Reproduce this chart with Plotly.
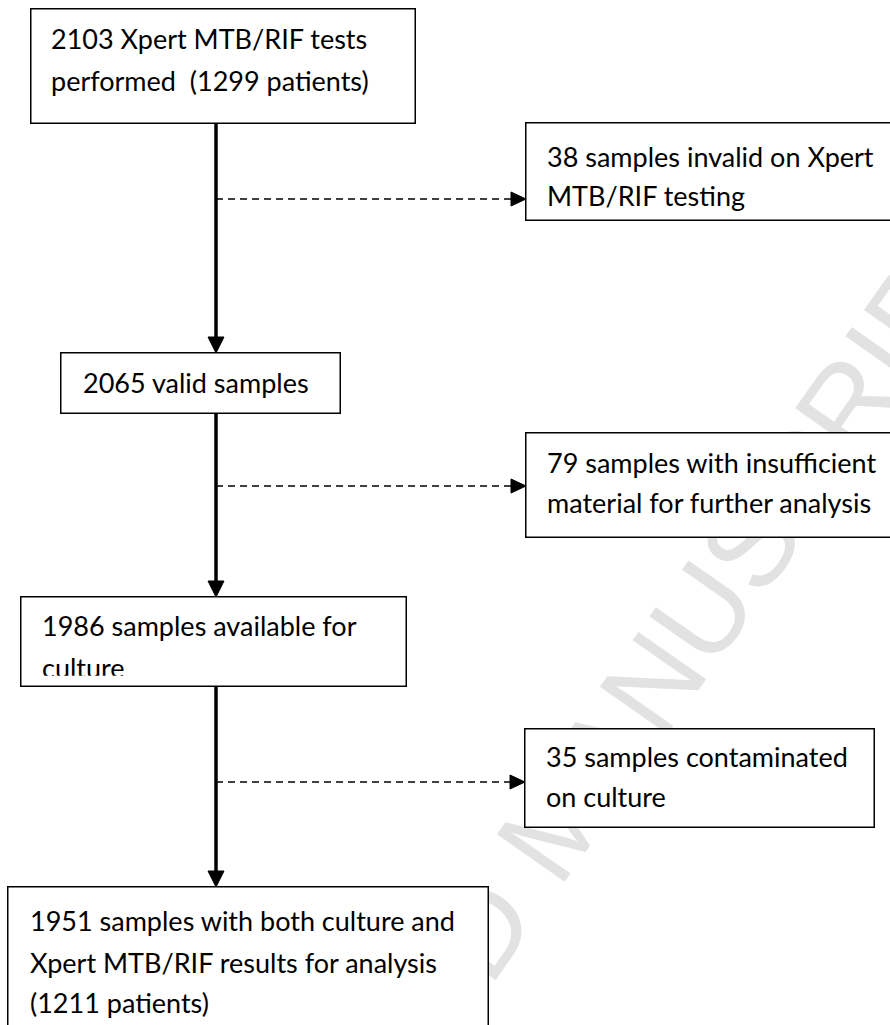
import plotly.graph_objects as go

# ---- flow-chart data (counts) ----
main_counts = [2103, 2065, 1986, 1951]
main_patients = [1299, None, None, 1211]
excluded_counts = [38, 79, 35]

main_box_lines = [
    [f"{main_counts[0]} Xpert MTB/RIF tests", f"performed \u00a0({main_patients[0]} patients)"],
    [f"{main_counts[1]} valid samples"],
    [f"{main_counts[2]} samples available for", "culture"],
    [f"{main_counts[3]} samples with both culture and",
     "Xpert MTB/RIF results for analysis",
     f"({main_patients[3]} patients)"],
]
side_box_lines = [
    [f"{excluded_counts[0]} samples invalid on Xpert", "MTB/RIF testing"],
    [f"{excluded_counts[1]} samples with insufficient", "material for further analysis"],
    [f"{excluded_counts[2]} samples contaminated", "on culture"],
]
watermark_text = "ACCEPTED MANUSCRIPT"

# ---- layout geometry (pixels, y downwards) ----
W, H = 890, 1025
main_boxes = [(31, 415, 9, 123), (61, 340, 353, 413), (21, 406, 597, 686), (8, 488, 887, 1060)]
main_text_x = [51, 83, 42, 30]
main_line_y = [[38, 80], [382], [625, 668], [920, 962, 1002]]
side_boxes = [(526, 905, 123, 220), (526, 905, 433, 537), (525, 874, 729, 827)]
side_text_x = [547, 547, 546]
side_line_y = [[156, 195], [462, 502], [756, 796]]
spine_x = 216
dash_y = [199, 486, 782]
clip_line = (2, 1, 676)  # box index, line index, clip y

FONT = "Lato, 'Open Sans', sans-serif"
FS = 27
BORDER = 1.5

fig = go.Figure()
fig.add_trace(go.Scatter(x=[], y=[], showlegend=False))

annotations = []
# watermark first so boxes hide it
annotations.append(dict(
    x=555, y=822, xref="x", yref="y", text=watermark_text, showarrow=False,
    textangle=-55, xanchor="center", yanchor="middle",
    font=dict(family="Liberation Sans, Arial, sans-serif", size=120, color="#e2e2e2"),
))


def box_ann(b):
    l, r, t, btm = b
    return dict(
        x=(l + r) / 2, y=(t + btm) / 2, xref="x", yref="y", text=" ", showarrow=False,
        xanchor="center", yanchor="middle",
        width=(r - l) - BORDER, height=(btm - t) - BORDER,
        bgcolor="white", bordercolor="black", borderwidth=BORDER, borderpad=0,
    )


for b in main_boxes + side_boxes:
    annotations.append(box_ann(b))


def line_anns(lines, x0, ys, box_idx=None):
    out = []
    for j, (txt, y) in enumerate(zip(lines, ys)):
        a = dict(x=x0, y=y, xref="x", yref="y", text=txt, showarrow=False,
                 xanchor="left", yanchor="middle", align="left",
                 borderpad=0, borderwidth=0,
                 font=dict(family=FONT, size=FS, color="black"))
        if box_idx is not None and (box_idx, j) == clip_line[:2]:
            cy = clip_line[2]
            a.update(yanchor="bottom", y=cy, height=cy - y + FS * 0.62, valign="top")
        out.append(a)
    return out


for i, lines in enumerate(main_box_lines):
    annotations += line_anns(lines, main_text_x[i], main_line_y[i], i)
for i, lines in enumerate(side_box_lines):
    annotations += line_anns(lines, side_text_x[i], side_line_y[i])

shapes = []
AH = 16  # arrow head length (solid)
for i in range(len(main_boxes) - 1):
    y0 = main_boxes[i][3]
    y1 = main_boxes[i + 1][2]
    shapes.append(dict(type="line", xref="x", yref="y", x0=spine_x, x1=spine_x,
                       y0=y0, y1=y1 - AH + 1, line=dict(color="black", width=3.5)))
    shapes.append(dict(type="path", xref="x", yref="y",
                       path=f"M {spine_x-8},{y1-AH} L {spine_x+8},{y1-AH} L {spine_x},{y1} Z",
                       fillcolor="black", line=dict(color="black", width=1)))

DH = 15
for k, y in enumerate(dash_y):
    xl = side_boxes[k][0]
    shapes.append(dict(type="line", xref="x", yref="y", x0=spine_x, x1=xl - DH,
                       y0=y, y1=y, line=dict(color="black", width=1.5, dash="7px,5px")))
    shapes.append(dict(type="path", xref="x", yref="y",
                       path=f"M {xl-DH},{y-7} L {xl-DH},{y+7} L {xl},{y} Z",
                       fillcolor="black", line=dict(color="black", width=1)))

fig.update_layout(
    width=W, height=H, margin=dict(l=0, r=0, t=0, b=0),
    paper_bgcolor="white", plot_bgcolor="white", showlegend=False,
    xaxis=dict(range=[0, W], visible=False, fixedrange=True),
    yaxis=dict(range=[H, 0], visible=False, fixedrange=True),
    annotations=annotations, shapes=shapes,
)

fig.write_html("out.html", config={"displayModeBar": False},
               post_script="document.body.style.margin='0px';")
